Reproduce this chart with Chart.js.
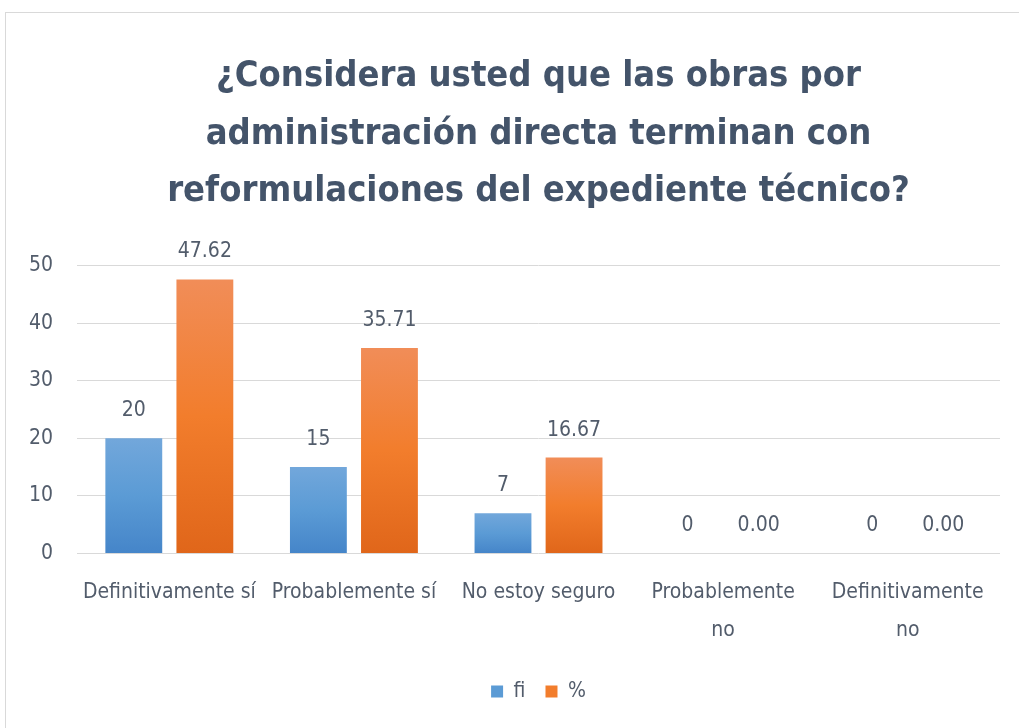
<!DOCTYPE html>
<html>
<head>
<meta charset="utf-8">
<script src="https://cdn.jsdelivr.net/npm/chart.js@4.4.1/dist/chart.umd.min.js"></script>
<style>
  html, body { margin: 0; padding: 0; background: #fff; overflow: hidden; }
  .frame { position: absolute; left: 5px; top: 12px; width: 1100px; height: 800px; border: 1px solid #D9D9D9; }
  .wrap { position: absolute; left: 0; top: 0; width: 1019px; height: 728px; }
</style>
</head>
<body>
<div class="frame"></div>
<div class="wrap"><canvas id="chart"></canvas></div>
<script>
// Datos
const categories = [
  "Definitivamente sí",
  "Probablemente sí",
  "No estoy seguro",
  ["Probablemente", "no"],
  ["Definitivamente", "no"],
];
const fiValues = [20, 15, 7, 0, 0];
const pctValues = [47.62, 35.71, 16.67, 0, 0];
const yTicks = [0, 10, 20, 30, 40, 50];

const FONT = "'Liberation Sans Narrow', 'DejaVu Sans Condensed', 'Roboto Condensed', 'Open Sans', sans-serif";
const TEXT = "#525C6B";

// degradado por barra
function barGradient(top, mid, bottom) {
  return (ctx) => {
    const chart = ctx.chart;
    if (!chart.chartArea || ctx.type !== "data") return mid;
    const y = chart.scales.y;
    const t = y.getPixelForValue(ctx.parsed.y);
    const b = y.getPixelForValue(0);
    if (!isFinite(t) || Math.abs(b - t) < 1) return mid;
    const g = chart.ctx.createLinearGradient(0, t, 0, b);
    g.addColorStop(0, top);
    g.addColorStop(0.5, mid);
    g.addColorStop(1, bottom);
    return g;
  };
}

// etiquetas de valores
const valueLabels = {
  id: "valueLabels",
  afterDatasetsDraw(chart) {
    const c = chart.ctx;
    c.save();
    c.font = "21px " + FONT;
    c.fillStyle = TEXT;
    c.textAlign = "center";
    c.textBaseline = "alphabetic";
    chart.data.datasets.forEach((ds, i) => {
      const meta = chart.getDatasetMeta(i);
      meta.data.forEach((el, j) => {
        const v = ds.data[j];
        const txt = i === 0 ? String(v) : v.toFixed(2);
        c.fillText(txt, el.x, el.y - 22);
      });
    });
    c.restore();
  },
};

const ctx = document.getElementById("chart");
const salesChart = new Chart(ctx, {
  type: "bar",
  data: {
    labels: categories,
    datasets: [
      {
        label: "fi",
        data: fiValues,
        backgroundColor: barGradient("#72A7DB", "#5B9BD5", "#4585C9"),
        barPercentage: 0.8,
        categoryPercentage: 0.77,
      },
      {
        label: "%",
        data: pctValues,
        backgroundColor: barGradient("#F18D58", "#F27D2C", "#E0661A"),
        barPercentage: 0.8,
        categoryPercentage: 0.77,
      },
    ],
  },
  options: {
    responsive: true,
    maintainAspectRatio: false,
    animation: false,
    layout: { padding: { left: 5, right: 19, top: 0, bottom: 16 } },
    plugins: {
      title: {
        display: true,
        text: [
          "¿Considera usted que las obras por",
          "administración directa terminan con",
          "reformulaciones del expediente técnico?",
        ],
        color: "#44546A",
        font: { family: FONT, size: 36, weight: "bold", lineHeight: 1.6 },
        padding: { top: 48, bottom: 45 },
        fullSize: false,
      },
      legend: {
        position: "bottom",
        fullSize: false,
        labels: {
          color: TEXT,
          font: { family: FONT, size: 21 },
          boxWidth: 12,
          boxHeight: 12,
          padding: 20,
          generateLabels: () => [
            { text: "fi", fillStyle: "#5B9BD5", strokeStyle: "#5B9BD5", lineWidth: 0, datasetIndex: 0, fontColor: TEXT },
            { text: "%", fillStyle: "#F27D2C", strokeStyle: "#F27D2C", lineWidth: 0, datasetIndex: 1, fontColor: TEXT },
          ],
        },
      },
      tooltip: { enabled: false },
    },
    scales: {
      x: {
        grid: { display: false },
        border: { display: false },
        ticks: {
          color: TEXT,
          font: { family: FONT, size: 21, lineHeight: 1.8 },
          padding: 12,
          maxRotation: 0,
          autoSkip: false,
        },
      },
      y: {
        min: 0,
        max: 50,
        afterBuildTicks: (axis) => { axis.ticks = yTicks.map((v) => ({ value: v })); },
        grid: { color: "#D9D9D9", drawTicks: false },
        border: { display: false },
        ticks: {
          color: TEXT,
          font: { family: FONT, size: 21 },
          padding: 24,
        },
      },
    },
  },
  plugins: [valueLabels],
});
</script>
</body>
</html>
